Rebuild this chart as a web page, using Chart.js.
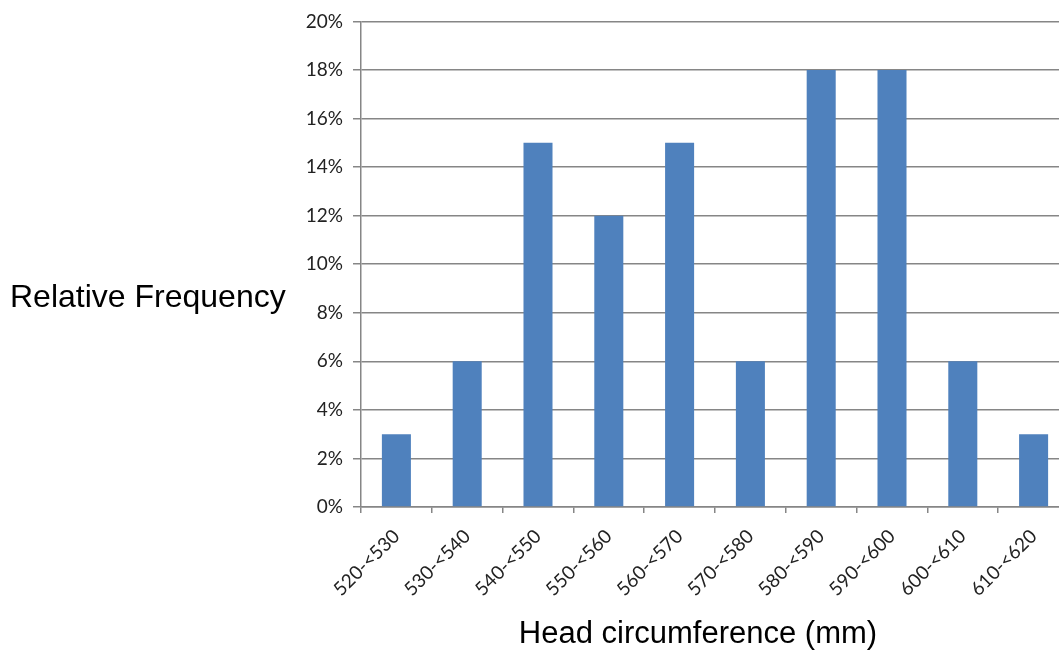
<!DOCTYPE html>
<html>
<head>
<meta charset="utf-8">
<script src="https://cdn.jsdelivr.net/npm/chart.js@4/dist/chart.umd.min.js"></script>
<style>
  html, body { margin: 0; padding: 0; background: #fff; overflow: hidden; }
  #wrap { width: 1059px; height: 653px; overflow: hidden; position: relative; }
  canvas { display: block; }
</style>
</head>
<body>
<div id="wrap"><canvas id="chart" width="1085" height="653"></canvas></div>
<script>
// Head circumference classes (mm) and their relative frequency (%)
const categories = ['520-<530', '530-<540', '540-<550', '550-<560', '560-<570',
                    '570-<580', '580-<590', '590-<600', '600-<610', '610-<620'];
const relativeFrequency = [3, 6, 15, 12, 15, 6, 18, 18, 6, 3];
const yTickValues = [0, 2, 4, 6, 8, 10, 12, 14, 16, 18, 20];
const yTitle = 'Relative Frequency';
const xTitle = 'Head circumference (mm)';

const CANVAS_W = 1085, CANVAS_H = 653;
const PLOT_LEFT = 361, PLOT_RIGHT = 1069, PLOT_TOP = 20, PLOT_BOTTOM = 507;

// Axis titles drawn horizontally beside / below the plot
const axisTitles = {
  id: 'axisTitles',
  afterDraw(chart) {
    const ctx = chart.ctx;
    ctx.save();
    ctx.fillStyle = '#000';
    ctx.textBaseline = 'middle';
    ctx.textAlign = 'left';
    ctx.font = '32px "Liberation Sans", Arial, sans-serif';
    ctx.fillText(yTitle, 10, 298);
    ctx.textAlign = 'center';
    ctx.font = '31px "Liberation Sans", Arial, sans-serif';
    ctx.fillText(xTitle, 698, 634);
    ctx.restore();
  }
};

new Chart(document.getElementById('chart'), {
  type: 'bar',
  data: {
    labels: categories,
    datasets: [{
      data: relativeFrequency,
      backgroundColor: '#4f81bd',
      borderWidth: 0,
      barPercentage: 0.41,
      categoryPercentage: 1.0
    }]
  },
  options: {
    responsive: false,
    animation: false,
    events: [],
    layout: { padding: { top: PLOT_TOP, right: CANVAS_W - PLOT_RIGHT, bottom: 0, left: 0 } },
    plugins: { legend: { display: false }, tooltip: { enabled: false }, title: { display: false } },
    scales: {
      x: {
        offset: true,
        afterFit(scale) { scale.height = CANVAS_H - PLOT_BOTTOM; },
        grid: { display: true, offset: true, drawOnChartArea: false, drawTicks: true,
                tickLength: 6, color: '#868686', lineWidth: 1.5 },
        border: { display: true, color: '#868686', width: 1.5 },
        ticks: {
          autoSkip: false, minRotation: 45, maxRotation: 45, padding: 12,
          color: '#222', font: { family: 'Lato, "Open Sans", sans-serif', size: 19 }
        }
      },
      y: {
        min: 0, max: 20,
        afterFit(scale) { scale.width = PLOT_LEFT; },
        afterBuildTicks(scale) { scale.ticks = yTickValues.map(v => ({ value: v })); },
        grid: { color: '#868686', lineWidth: 1.5, tickLength: 8, drawTicks: true },
        border: { display: true, color: '#868686', width: 1.5 },
        ticks: {
          padding: 10, color: '#222',
          font: { family: 'Lato, "Open Sans", sans-serif', size: 19 },
          callback: v => v + '%'
        }
      }
    }
  },
  plugins: [axisTitles]
});
</script>
</body>
</html>
